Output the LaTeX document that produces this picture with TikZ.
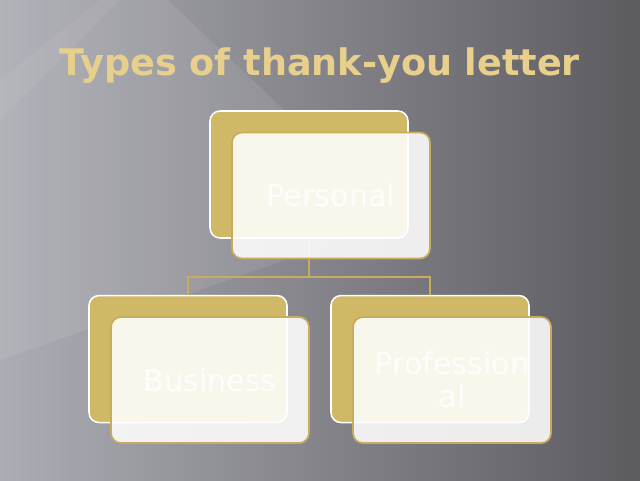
\documentclass[tikz,border=0pt]{standalone}
\usepackage{fontspec}
\setmainfont{DejaVu Sans}
\usetikzlibrary{positioning}

\definecolor{bgleft}{HTML}{ACACB4}
\definecolor{bgright}{HTML}{5C5B60}
\definecolor{cardgold}{HTML}{D0B966}
\definecolor{cardline}{HTML}{C6AC5C}
\definecolor{titlegold}{HTML}{E8D08C}

\tikzset{
  backcard/.style={draw=white, line width=1.1pt, fill=cardgold, rounded corners=0.25cm,
    minimum width=4.95cm, minimum height=3.175cm},
  frontcard/.style={draw=cardline, line width=1.2pt, fill=white, fill opacity=0.88,
    text opacity=0.85, text=white, rounded corners=0.25cm, align=center,
    minimum width=4.95cm, minimum height=3.15cm, text width=4.2cm,
    font=\fontsize{21.5}{25}\selectfont},
  link/.style={draw=cardline, line width=1.1pt}
}

\begin{document}
\begin{tikzpicture}
    \useasboundingbox (0,0) rectangle (16,12);
    % background
    \shade[left color=bgleft, right color=bgright] (0,0) rectangle (16,12);
    \fill[white, opacity=0.08] (0,12) -- (4.2,12) -- (10,6.5) -- (0,3) -- cycle;
    \fill[white, opacity=0.05] (0,10) -- (2.5,12) -- (3,12) -- (0,9) -- cycle;
    % title
    \node[text=titlegold, font=\fontsize{26}{30}\selectfont\bfseries] (title) at (8,10.37) {Types of thank-you letter};
    % cards
    \node[backcard] (personal) at (7.725,7.6375) {};
    \node[backcard, below=1.4cm of personal, xshift=-3.025cm] (business) {};
    \node[backcard, below=1.4cm of personal, xshift=3.025cm] (professional) {};
    \draw[link] (personal.south) -- ++(0,-0.95) -| (business.north);
    \draw[link] (personal.south) -- ++(0,-0.95) -| (professional.north);
    \node[frontcard] (personal-front) at ([shift={(0.55,-0.525)}]personal) {Personal};
    \node[frontcard] (business-front) at ([shift={(0.55,-0.525)}]business) {Business};
    \node[frontcard, text width=4.6cm, font=\fontsize{21.5}{23.5}\selectfont] (professional-front) at ([shift={(0.55,-0.525)}]professional) {Profession\\al};
\end{tikzpicture}
\end{document}
